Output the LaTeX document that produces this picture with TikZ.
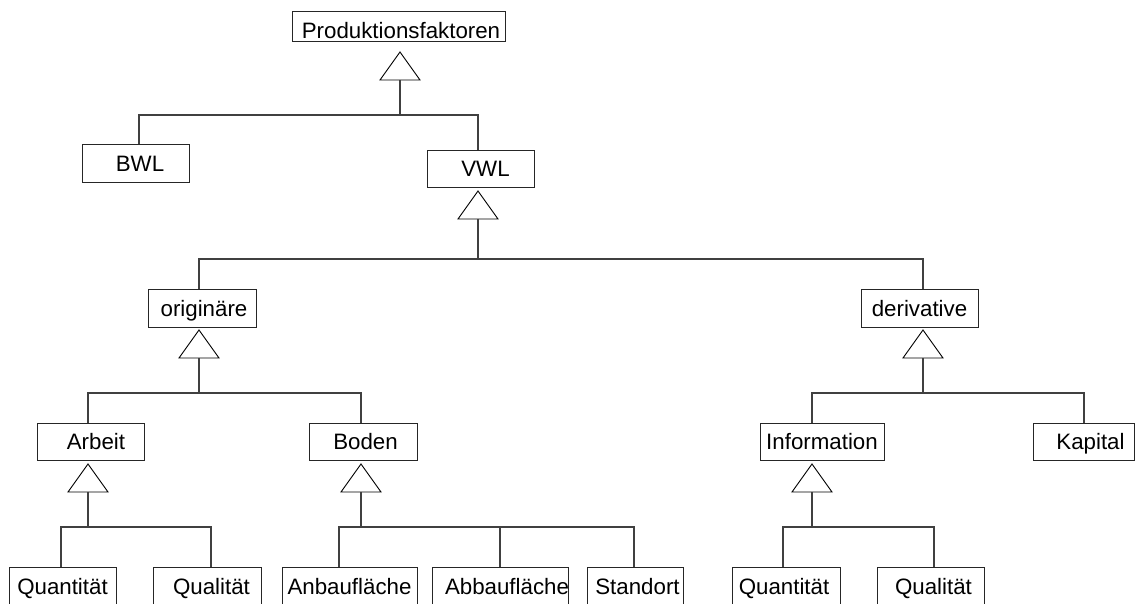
\documentclass[tikz,border=0pt]{standalone}
\usepackage{fontspec}
\setmainfont{Liberation Sans}
\newcommand\gentri[3]{%
  \coordinate (#1a) at (#2,#3);
  \coordinate (#1b) at (#2,#3+28);
  \draw[tri] (#1a) -- ++(20,28) -- ++(-40,0) -- cycle;}
\newcommand\shifttxt[2]{\hspace*{#1}#2\hspace*{-#1}}
\begin{document}
\begin{tikzpicture}[x=1pt,y=-1pt,
  box/.style={draw=black!85,line width=1pt,rectangle,inner sep=0pt,
    minimum height=38pt,text height=20pt,text depth=4pt,
    font=\fontsize{22.3}{26}\selectfont},
  conn/.style={draw=black!75,line width=1.1pt},
  tri/.style={draw=black,line width=0.9pt,line join=miter}]
\clip (0,0) rectangle (1136,603);
\fill[white] (0,0) rectangle (1136,603);

% boxes
\node[box,minimum width=213pt,minimum height=30pt,text height=24pt,text depth=0pt] (prod) at (398.5,26) {\shifttxt{2.5pt}{Produktionsfaktoren}};
\node[box,minimum width=107pt] (bwl) at (135.5,163) {\shifttxt{4.5pt}{BWL}};
\node[box,minimum width=107pt,minimum height=37pt] (vwl) at (480.5,168.5) {\shifttxt{5pt}{VWL}};
\node[box,minimum width=108pt] (orig) at (202,308) {\shifttxt{2pt}{originäre}};
\node[box,minimum width=117pt] (deriv) at (919.5,308) {derivative};
\node[box,minimum width=107pt,minimum height=37pt] (arbeit) at (90.5,441.5) {\shifttxt{5.5pt}{Arbeit}};
\node[box,minimum width=108pt,minimum height=37pt] (boden) at (363,441.5) {\shifttxt{2.5pt}{Boden}};
\node[box,minimum width=124pt,minimum height=37pt] (info) at (822,441.5) {Information};
\node[box,minimum width=101pt,minimum height=37pt] (kapital) at (1083.5,441.5) {\shifttxt{7pt}{Kapital}};
\node[box,minimum width=107pt] (quantL) at (62.5,586) {Quantität};
\node[box,minimum width=108pt] (qualL) at (207,586) {\shifttxt{4.5pt}{Qualität}};
\node[box,minimum width=135pt] (anbau) at (349.5,586) {Anbaufläche};
\node[box,minimum width=136pt] (abbau) at (500,586) {\shifttxt{7pt}{Abbaufläche}};
\node[box,minimum width=96pt] (standort) at (635,586) {\shifttxt{2.5pt}{Standort}};
\node[box,minimum width=108pt] (quantR) at (786,586) {\shifttxt{-2pt}{Quantität}};
\node[box,minimum width=107pt] (qualR) at (930.5,586) {\shifttxt{3pt}{Qualität}};

% triangles
\gentri{tP}{400}{52}
\gentri{tV}{478}{191}
\gentri{tO}{199}{330}
\gentri{tD}{923}{330}
\gentri{tA}{88}{464}
\gentri{tB}{361}{464}
\gentri{tI}{812}{464}

% junctions
\coordinate (jP) at (400,115);
\coordinate (jV) at (478,259);
\coordinate (jO) at (199,393);
\coordinate (jD) at (923,393);
\coordinate (jA) at (88,527);
\coordinate (jB) at (361,527);
\coordinate (jI) at (812,527);

% connectors
\draw[conn] (tPb) -- (jP);
\draw[conn] ([xshift=3.5pt]bwl.north) |- (jP) -| ([xshift=-2.5pt]vwl.north);

\draw[conn] (tVb) -- (jV);
\draw[conn] ([xshift=-3pt]orig.north) |- (jV) -| ([xshift=3.5pt]deriv.north);

\draw[conn] (tOb) -- (jO);
\draw[conn] ([xshift=-2.5pt]arbeit.north) |- (jO) -| ([xshift=-2pt]boden.north);

\draw[conn] (tDb) -- (jD);
\draw[conn] ([xshift=-10pt]info.north) |- (jD) -| ([xshift=0.5pt]kapital.north);

\draw[conn] (tAb) -- (jA);
\draw[conn] ([xshift=-1.5pt]quantL.north) |- (jA) -| ([xshift=4pt]qualL.north);

\draw[conn] (tBb) -- (jB);
\draw[conn] ([xshift=-10.5pt]anbau.north) |- (jB) -| ([xshift=-1pt]standort.north);
\draw[conn] (abbau.north) -- (abbau.north |- jB);

\draw[conn] (tIb) -- (jI);
\draw[conn] ([xshift=-3pt]quantR.north) |- (jI) -| ([xshift=3.5pt]qualR.north);
\end{tikzpicture}
\end{document}
